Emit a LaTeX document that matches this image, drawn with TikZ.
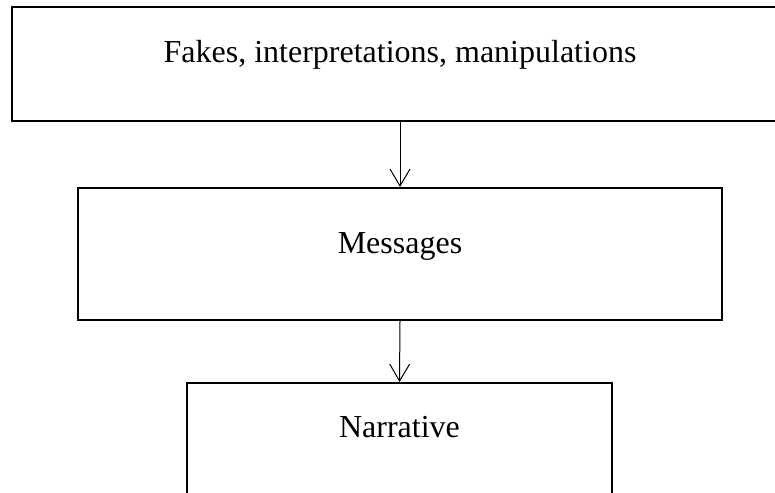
\documentclass[tikz,border=0pt]{standalone}
\usepackage{fontspec}
\setmainfont{Liberation Serif}
\usetikzlibrary{arrows.meta}
\begin{document}
\begin{tikzpicture}[x=1pt,y=1pt,
  box/.style={draw=black, line width=2pt, rectangle, inner sep=0pt, fill=none},
  lbl/.style={anchor=base, inner sep=0pt, font=\fontsize{32}{38}\selectfont},
  arr/.style={draw=black, line width=1pt, -{Straight Barb[length=17pt,width=20pt,line width=1pt]}}]
\useasboundingbox (0,0) rectangle (775,-492);
\clip (0,0) rectangle (775,-492);
\node[box, minimum width=776pt, minimum height=114pt] (b1) at (400,-64) {};
\node[box, minimum width=644pt, minimum height=132pt] (b2) at (400,-254) {};
\node[box, minimum width=425pt, minimum height=177pt] (b3) at (399.5,-471.5) {};
\node[lbl] (t1) at (400,-63) {Fakes, interpretations, manipulations};
\node[lbl] (t2) at (400,-253) {Messages};
\node[lbl] (t3) at (399.5,-437) {Narrative};
\draw[arr] (b1.south) -- (b2.north);
\draw[arr] (b2.south) -- (b3.north);
\end{tikzpicture}
\end{document}
